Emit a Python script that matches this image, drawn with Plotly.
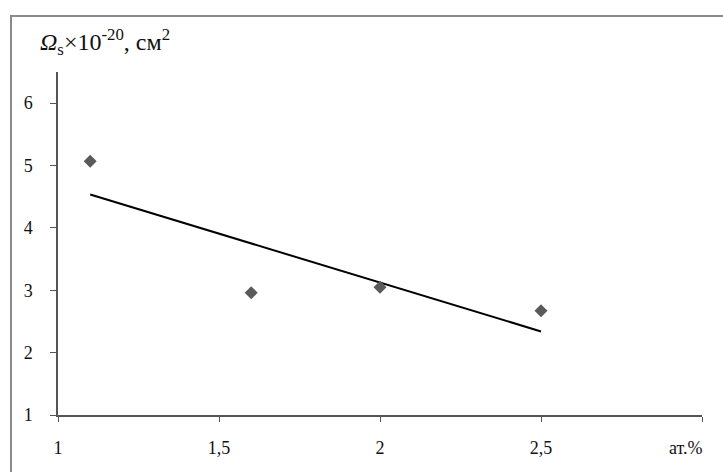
import numpy as np
import plotly.graph_objects as go

# Data
x_vals = [1.1, 1.6, 2.0, 2.5]
y_vals = [5.07, 2.96, 3.05, 2.67]
x_ticks = [1, 1.5, 2, 2.5]
x_tick_labels = ["1", "1,5", "2", "2,5"]
x_end_tick = [3]
y_ticks = [1, 2, 3, 4, 5, 6]
y_tick_labels = ["1", "2", "3", "4", "5", "6"]
y_title = "<i>Ω</i><sub>s</sub>×10<sup>-20</sup>, см<sup>2</sup>"
x_title = "ат.%"

W, H = 723, 472
ML, MR, MT, MB = 58, 21, 72, 57

# linear trendline (least squares, like Excel's linear trend)
slope, intercept = np.polyfit(x_vals, y_vals, 1)
trend_x = [min(x_vals), max(x_vals)]
trend_y = [slope * v + intercept for v in trend_x]

FONT = "Liberation Serif"

fig = go.Figure()
fig.add_trace(go.Scatter(
    x=trend_x, y=trend_y, mode="lines",
    line=dict(color="#000000", width=2),
    hoverinfo="skip", showlegend=False))
fig.add_trace(go.Scatter(
    x=x_vals, y=y_vals, mode="markers",
    marker=dict(symbol="diamond", size=10, color="#5a5a5a",
                line=dict(width=0)),
    showlegend=False))

pw = W - ML - MR
ph = H - MT - MB

def px_x(p):
    return (p - ML) / pw

def px_y(p):
    return (H - MB - p) / ph

fig.update_layout(
    width=W, height=H,
    margin=dict(l=ML, r=MR, t=MT, b=MB, pad=0),
    paper_bgcolor="white", plot_bgcolor="white",
    separators=", ",
    font=dict(family=FONT, size=18, color="#111111"),
    xaxis=dict(
        range=[1, 3], tickmode="array", tickvals=x_ticks, ticktext=x_tick_labels,
        showgrid=False, zeroline=False, showline=True, linecolor="#555555", linewidth=1.5,
        ticks="outside", ticklen=5, tickcolor="#555555", tickwidth=1,
        minor=dict(tickmode="array", tickvals=x_end_tick, ticks="outside", ticklen=5,
                   tickcolor="#555555", tickwidth=1, showgrid=False),
        ticklabelstandoff=11, tickfont=dict(family=FONT, size=18, color="#111111")),
    yaxis=dict(
        range=[1, 6.5], tickmode="array", tickvals=y_ticks, ticktext=y_tick_labels,
        showgrid=False, zeroline=False, showline=True, linecolor="#555555", linewidth=1.5,
        ticks="outside", ticklen=6, tickcolor="#555555", tickwidth=1,
        ticklabelstandoff=14, tickfont=dict(family=FONT, size=18, color="#111111")),
    shapes=[dict(type="rect", xref="paper", yref="paper",
                 x0=px_x(11), x1=px_x(W + 20), y0=px_y(H + 20), y1=px_y(16),
                 line=dict(color="#8a8a8a", width=2), fillcolor="rgba(0,0,0,0)",
                 layer="below")],
    annotations=[
        dict(text=y_title, xref="paper", yref="paper", x=px_x(38), y=px_y(42),
             xanchor="left", yanchor="middle", showarrow=False,
             font=dict(family=FONT, size=24, color="#111111")),
        dict(text=x_title, xref="paper", yref="paper", x=px_x(686), y=px_y(448),
             xanchor="center", yanchor="middle", showarrow=False,
             font=dict(family=FONT, size=18, color="#111111")),
    ],
)

fig.write_html("out.html")
